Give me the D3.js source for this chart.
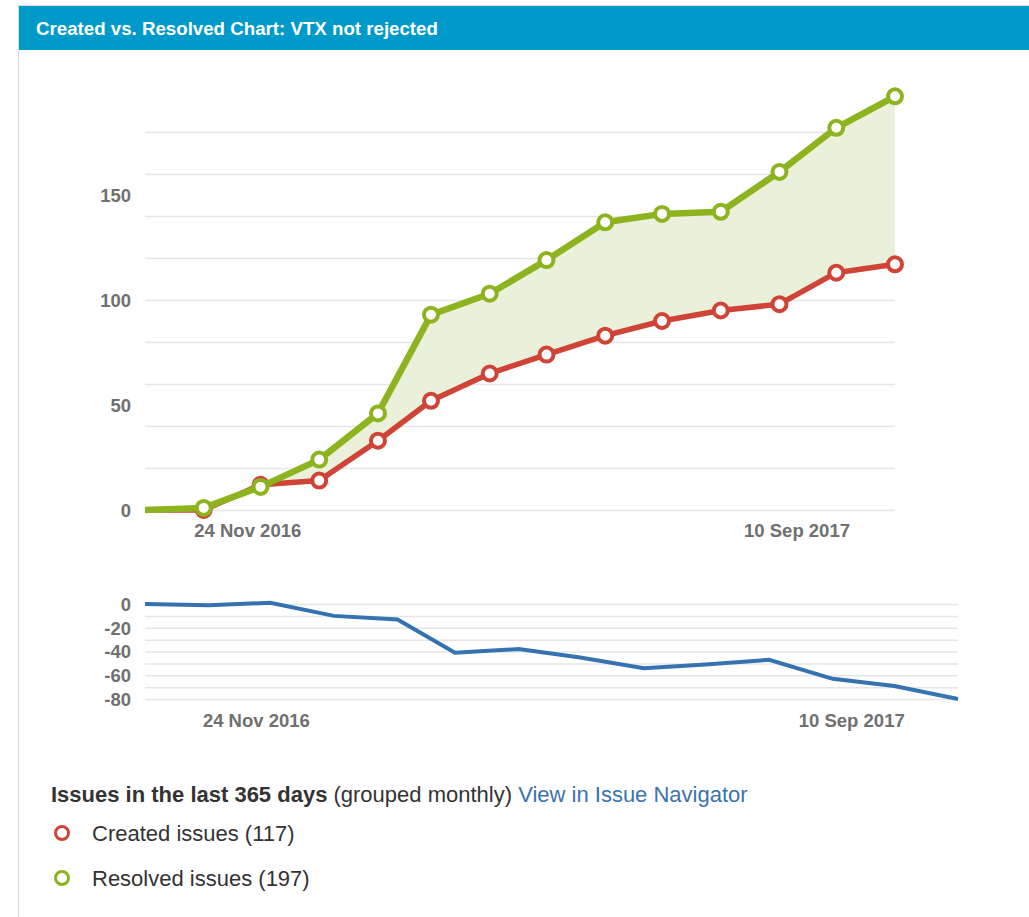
<!DOCTYPE html>
<html>
<head>
<meta charset="utf-8">
<script src="https://cdn.jsdelivr.net/npm/d3@7"></script>
<style>
  html, body { margin: 0; padding: 0; background: #fff; }
  svg { display: block; }
</style>
</head>
<body>
<script>
// monthly points (first one sits on the left edge)
const months = ["2016-10-01", "2016-11-01", "2016-12-01", "2017-01-01", "2017-02-01", "2017-03-01", "2017-04-01",
    "2017-05-01", "2017-06-01", "2017-07-01", "2017-08-01", "2017-09-01", "2017-10-01", "2017-11-01"]
const created = [0, 0, 12, 14, 33, 52, 65, 74, 83, 90, 95, 98, 113, 117]
const resolved = [0, 1, 11, 24, 46, 93, 103, 119, 137, 141, 142, 161, 182, 197]
const diffValues = [0, -1, 1, -10, -13, -41, -38, -45, -54, -51, -47, -63, -69, -80]
const dateTicks = ["2016-11-24", "2017-09-10"]
const mainYTicks = [0, 50, 100, 150]
const mainGrid = [0, 20, 40, 60, 80, 100, 120, 140, 160, 180]
const diffYTicks = [0, -20, -40, -60, -80]
const diffGrid = [0, -10, -20, -30, -40, -50, -60, -70, -80]

const parse = d3.timeParse("%Y-%m-%d")
const fmt = d3.timeFormat("%-d %b %Y")
const dates = months.map(parse)

const Green = "#8db41f"
const Red = "#d04437"
const Blue = "#3572b0"
const AxisText = "#707070"
const GridColor = "#e6e6e6"
const Font = "'Liberation Sans', Arial, sans-serif"
const LabelSize = "18.5px"
const LegendSize = "22px"

const svg = d3.select("body").append("svg")
    .attr("width", 1029)
    .attr("height", 917)
    .style("font-family", Font)

// panel + header
svg.append("rect").attr("x", 18.5).attr("y", 5.5).attr("width", 1020).attr("height", 930)
    .attr("fill", "#fff").attr("stroke", "#dcdcdc")
svg.append("rect").attr("x", 19).attr("y", 6).attr("width", 1010).attr("height", 44).attr("fill", "#009aca")
svg.append("text").attr("x", 36).attr("y", 35).text("Created vs. Resolved Chart: VTX not rejected")
    .attr("fill", "#fff").attr("font-size", "18.7px").attr("font-weight", "bold")

function styleTicks(g, dy) {
    g.select(".domain").remove()
    g.selectAll("text").attr("fill", AxisText).attr("font-size", LabelSize).attr("font-weight", "bold")
        .attr("font-family", Font).attr("dy", dy)
}

// ---- main chart ----
const x = d3.scaleTime().domain(d3.extent(dates)).range([145, 895])
const y = d3.scaleLinear().domain([0, 180]).range([510, 132])

const main = svg.append("g")
main.selectAll("line.grid").data(mainGrid).join("line")
    .attr("x1", 145).attr("x2", 895)
    .attr("y1", d => y(d) + 0.5).attr("y2", d => y(d) + 0.5)
    .attr("stroke", GridColor).attr("stroke-width", 1.5)

main.append("g").attr("transform", "translate(131,0)")
    .call(d3.axisLeft(y).tickValues(mainYTicks).tickFormat(d => String(d)).tickSize(0).tickPadding(0))
    .call(styleTicks, "0.35em")

main.append("g").attr("transform", "translate(0,524)")
    .call(d3.axisBottom(x).tickValues(dateTicks.map(parse)).tickFormat(fmt).tickSize(0).tickPadding(0))
    .call(styleTicks, "0.71em")

// area between the two series
const band = dates.map((d, i) => ({d: d, c: created[i], r: resolved[i]}))
main.append("path").datum(band)
    .attr("d", d3.area().x(p => x(p.d)).y0(p => y(p.c)).y1(p => y(Math.max(p.r, p.c))))
    .attr("fill", "#eaf0da")

function drawSeries(vals, color, w) {
    const pts = dates.map((d, i) => [x(d), y(vals[i])])
    main.append("path").datum(pts)
        .attr("d", d3.line())
        .attr("fill", "none").attr("stroke", color).attr("stroke-width", w)
        .attr("stroke-linejoin", "round")
    main.selectAll(null).data(pts.slice(1)).join("circle")
        .attr("cx", p => p[0]).attr("cy", p => p[1]).attr("r", 7)
        .attr("fill", "#fff").attr("stroke", color).attr("stroke-width", 4)
}
drawSeries(created, Red, 5.5)
drawSeries(resolved, Green, 6.5)

// ---- difference chart ----
const x2 = d3.scaleTime().domain(d3.extent(dates)).range([145, 958])
const y2 = d3.scaleLinear().domain([-80, 0]).range([699, 604])

const sub = svg.append("g")
sub.selectAll("line.grid").data(diffGrid).join("line")
    .attr("x1", 145).attr("x2", 958)
    .attr("y1", d => y2(d) + 0.5).attr("y2", d => y2(d) + 0.5)
    .attr("stroke", GridColor).attr("stroke-width", 1.5)

// plain hyphen for negatives, like the original
sub.append("g").attr("transform", "translate(131,0)")
    .call(d3.axisLeft(y2).tickValues(diffYTicks).tickFormat(d => String(d)).tickSize(0).tickPadding(0))
    .call(styleTicks, "0.35em")

sub.append("g").attr("transform", "translate(0,714)")
    .call(d3.axisBottom(x2).tickValues(dateTicks.map(parse)).tickFormat(fmt).tickSize(0).tickPadding(0))
    .call(styleTicks, "0.71em")

sub.append("path").datum(dates.map((d, i) => [x2(d), y2(diffValues[i])]))
    .attr("d", d3.line())
    .attr("fill", "none").attr("stroke", Blue).attr("stroke-width", 4)

// ---- legend ----
const head = svg.append("text").attr("x", 51).attr("y", 802).attr("font-size", LegendSize).attr("fill", "#333")
head.append("tspan").text("Issues in the last 365 days ").attr("font-weight", "bold")
head.append("tspan").text("(grouped monthly) ")
head.append("tspan").text("View in Issue Navigator").attr("fill", "#3b73af")

const legendItems = [["Created issues (117)", Red], ["Resolved issues (197)", Green]]
const lg = svg.append("g").selectAll("g").data(legendItems).join("g")
    .attr("transform", (d, i) => "translate(0," + (833 + i * 45) + ")")
lg.append("circle").attr("cx", 62).attr("cy", 0).attr("r", 6.5)
    .attr("fill", "#fff").attr("stroke", d => d[1]).attr("stroke-width", 3)
lg.append("text").attr("x", 92).attr("y", 8).text(d => d[0])
    .attr("font-size", LegendSize).attr("fill", "#333")
</script>
</body>
</html>
